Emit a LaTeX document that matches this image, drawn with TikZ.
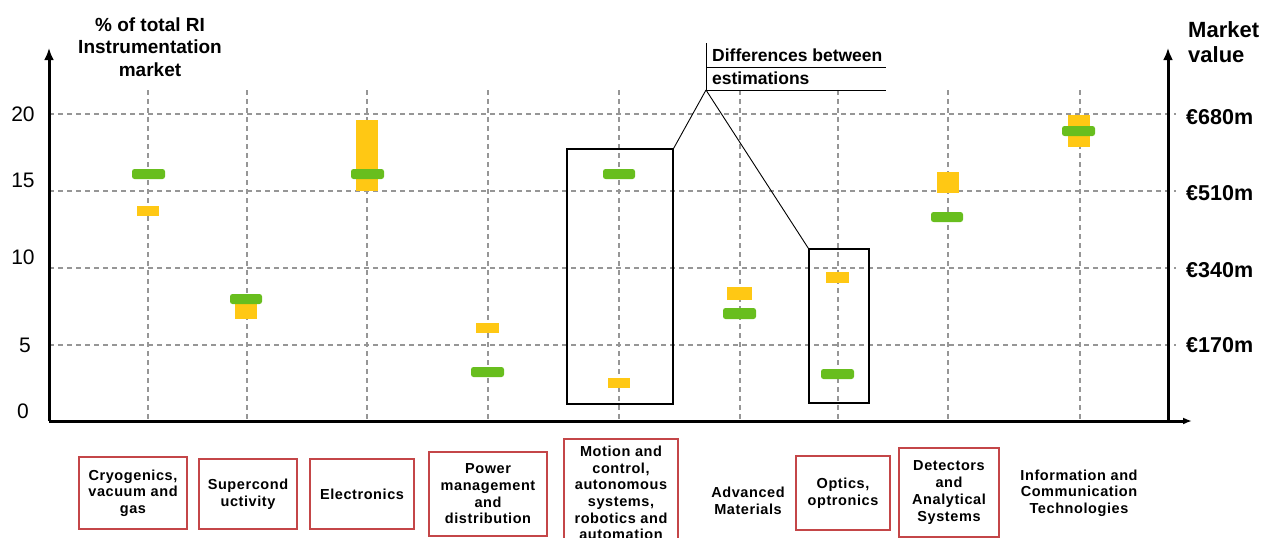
\documentclass[tikz,border=0pt]{standalone}
\usepackage{fontspec}
\setmainfont{Liberation Sans}
\newfontfamily\spacedsans[LetterSpace=4]{Liberation Sans}
\usetikzlibrary{arrows.meta}

\definecolor{gridgray}{RGB}{150,150,150}
\definecolor{estgreen}{RGB}{104,190,30}
\definecolor{estyellow}{RGB}{255,200,20}
\definecolor{boxred}{RGB}{196,70,72}

\newcommand\catfont{\spacedsans\bfseries\fontsize{14.5}{16.7}\selectfont}

\tikzset{
  gridline/.style={draw=gridgray, line width=1.2pt, dash pattern=on 5pt off 4pt},
  axisline/.style={line width=3pt, -{Latex[length=12pt,width=10pt]}},
  greenbar/.style={fill=estgreen, rounded corners=2.5pt},
  yellowbar/.style={fill=estyellow},
  catbox/.style={draw=boxred, line width=1.2pt, align=center, font=\catfont, inner sep=0pt},
  cattext/.style={align=center, font=\catfont, inner sep=0pt},
  focusbox/.style={draw=black, line width=1.2pt, inner sep=0pt},
  ticklabel/.style={font=\fontsize{21}{21}\selectfont, inner sep=0pt},
  valuelabel/.style={font=\bfseries\fontsize{21.5}{21.5}\selectfont, anchor=west, inner sep=0pt},
  notetext/.style={font=\bfseries\fontsize{17.5}{17.5}\selectfont, anchor=west, inner sep=0pt},
  leader/.style={draw=black, line width=0.9pt}
}

\begin{document}
\begin{tikzpicture}[x=1pt,y=-1pt]
\useasboundingbox (0,0) rectangle (1277,538);

% dashed grid
\foreach \gy in {114,191,268,345}
  \draw[gridline] (49,\gy) -- (1176,\gy);
\foreach \gx in {148,247,367,488,619,740,838,948,1080}
  \draw[gridline] (\gx,90) -- (\gx,421);

% axes
\coordinate (origin) at (49,421);
\coordinate (ytop) at (49,48);
\coordinate (xend) at (1192,421);
\coordinate (rbase) at (1168,421);
\coordinate (rtop) at (1168,48);
\draw[axisline] (origin) -- (ytop);
\draw[line width=3pt, -{Latex[length=9pt,width=7pt]}] (origin) -- (xend);
\draw[axisline] (rbase) -- (rtop);

% left scale
\node[ticklabel] (t20) at (23,114) {20};
\node[ticklabel] (t15) at (23,180) {15};
\node[ticklabel] (t10) at (23,257) {10};
\node[ticklabel] (t5)  at (25,345) {5};
\node[ticklabel] (t0)  at (23,411) {0};
\node[align=center, inner sep=0pt, font=\bfseries\fontsize{19}{22.5}\selectfont]
  (ytitle) at (150,47) {\% of total RI\\Instrumentation\\market};

% right scale
\node[valuelabel] (v680) at (1186,117) {€680m};
\node[valuelabel] (v510) at (1186,193) {€510m};
\node[valuelabel] (v340) at (1186,270) {€340m};
\node[valuelabel] (v170) at (1186,345) {€170m};
\node[align=left, anchor=west, inner sep=0pt, font=\bfseries\fontsize{22}{25}\selectfont]
  (rtitle) at (1188,42.5) {Market\\value};

% estimates per technology field
% cryogenics
\fill[greenbar]  (132,169) rectangle (165,179);
\fill[yellowbar] (137,206) rectangle (159,216);
% superconductivity
\fill[yellowbar] (235,303) rectangle (257,319);
\fill[greenbar]  (230,294) rectangle (262,304);
% electronics
\fill[yellowbar] (356,120) rectangle (378,191);
\fill[greenbar]  (351,169) rectangle (384,179);
% power
\fill[yellowbar] (476,323) rectangle (499,333);
\fill[greenbar]  (471,367) rectangle (504,377);
% motion and control
\fill[greenbar]  (603,169) rectangle (635,179);
\fill[yellowbar] (608,378) rectangle (630,388);
% advanced materials
\fill[yellowbar] (727,287) rectangle (752,300);
\fill[greenbar]  (723,308) rectangle (756,319);
% optics
\fill[yellowbar] (826,272) rectangle (849,283);
\fill[greenbar]  (821,369) rectangle (854,379);
% detectors
\fill[yellowbar] (937,172) rectangle (959,193);
\fill[greenbar]  (931,212) rectangle (963,222);
% ICT
\fill[yellowbar] (1068,115) rectangle (1090,147);
\fill[greenbar]  (1062,126) rectangle (1095,136);

% highlighted fields
\node[focusbox, minimum width=106, minimum height=255] (motionfocus) at (620,276.5) {};
\node[focusbox, minimum width=60, minimum height=154] (opticsfocus) at (839,326) {};

% callout
\coordinate (calltip) at (706,90);
\coordinate (calltop) at (706,43);
\coordinate (rule1) at (886,67);
\coordinate (rule2) at (886,90);
\node[notetext] (note1) at (712,55) {Differences between};
\node[notetext] (note2) at (712,78) {estimations};
\draw[leader] (calltop) -- (calltip);
\draw[leader] (706,67) -- (rule1);
\draw[leader] (calltip) -- (rule2);
\draw[leader] (calltip) -- (motionfocus.north east);
\draw[leader] (calltip) -- (opticsfocus.north west);

% category labels
\node[catbox, minimum width=108, minimum height=72] (cryo) at (133,493) {Cryogenics,\\vacuum and\\gas};
\node[catbox, minimum width=98, minimum height=70] (supercond) at (248,494) {Supercond\\uctivity};
\node[catbox, minimum width=104, minimum height=70] (electronics) at (362,494) {Electronics};
\node[catbox, minimum width=118, minimum height=84] (power) at (488,494) {Power\\management\\and\\distribution};
\node[catbox, minimum width=114, minimum height=108] (motion) at (621,493) {Motion and\\control,\\autonomous\\systems,\\robotics and\\automation};
\node[cattext] (advanced) at (748,501) {Advanced\\Materials};
\node[catbox, minimum width=94, minimum height=74] (optics) at (843,493) {Optics,\\optronics};
\node[catbox, minimum width=100, minimum height=89] (detectors) at (949,492.5) {Detectors\\and\\Analytical\\Systems};
\node[cattext] (ict) at (1079,493) {Information and\\Communication\\Technologies};
\end{tikzpicture}
\end{document}
